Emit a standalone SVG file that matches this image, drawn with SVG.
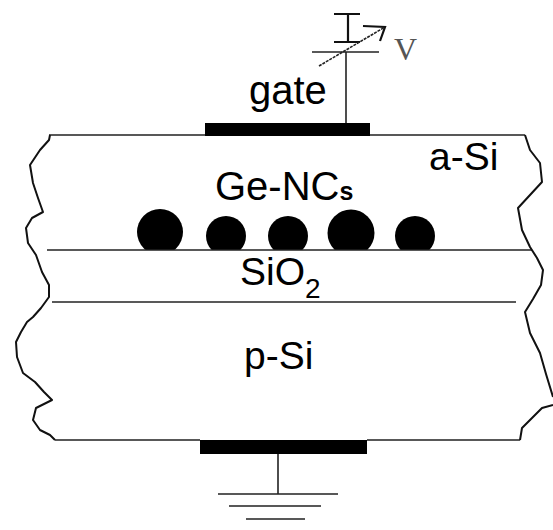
<svg xmlns="http://www.w3.org/2000/svg" width="553" height="530" viewBox="0 0 553 530">
<defs><clipPath id="k"><rect x="0" y="0" width="553" height="250"/></clipPath></defs>
<style>
.l{fill:none;stroke:#222;stroke-width:1.6}
.p{fill:none;stroke:#111;stroke-width:2.2}
.e{fill:none;stroke:#111;stroke-width:2;stroke-linejoin:round}
.t{font-family:"Liberation Sans",Arial,sans-serif;fill:#000;font-size:39px}
.b{fill:#000}
</style>
<rect width="553" height="530" fill="#fff"/>
<g id="nc1" clip-path="url(#k)"><circle class="b" cx="160" cy="232" r="23"/></g>
<g id="nc2" clip-path="url(#k)"><circle class="b" cx="226" cy="236" r="20"/></g>
<g id="nc3" clip-path="url(#k)"><circle class="b" cx="288" cy="236" r="20"/></g>
<g id="nc4" clip-path="url(#k)"><circle class="b" cx="351" cy="233" r="23.5"/></g>
<g id="nc5" clip-path="url(#k)"><circle class="b" cx="415" cy="236" r="20"/></g>
<g id="connectors">
<path class="l" d="M49 135H205M370 135H525"/>
<path class="l" d="M47 250H532"/>
<path class="l" d="M52 302H516"/>
<path class="l" d="M55 440H200M367 440H520"/>
<path class="l" d="M346 52V124"/>
<path class="l" d="M312 52H379"/>
<path class="p" d="M334 14H360M348 14V42M334 42H360"/>
<path class="l" d="M319 66L385 27" stroke-dasharray="3 1"/>
<path class="p" d="M363 26L385 27L380 41"/>
<path class="l" d="M278 454V494M218 494H338M229 506H321M246 519H305"/>
</g>
<g id="edges">
<path class="e" d="M50 135L49 140L40 150L30 165L33 183L38 198L43 212L32 218L26 228L28 243L36 255L42 272L49 285L49 297L41 308L33 317L27 322L21 332L16 342L17 357L23 373L35 382L44 392L52 400L36 408L33 420L40 430L50 435L55 440"/>
<path class="e" d="M525 135L530 150L540 163L542 182L530 195L518 208L522 230L530 247L537 258L543 270L541 285L533 299L525 312L530 333L540 353L546 374L553 397M553 405L542 408L532 418L522 428L520 440"/>
</g>
<g id="gate"><rect class="b" x="205" y="123" width="165" height="13"/></g>
<g id="back"><rect class="b" x="200" y="440" width="167" height="14"/></g>
<g id="labels">
<text class="t" x="249" y="104" font-size="40" style="font-size:40px">gate</text>
<text class="t" x="429" y="170">a-Si</text>
<text class="t" x="215" y="200" style="font-size:40px">Ge-NC<tspan style="font-size:25px" font-weight="bold">s</tspan></text>
<text class="t" x="240" y="285">SiO<tspan style="font-size:28px" dy="13">2</tspan></text>
<text class="t" x="244" y="369">p-Si</text>
<text x="394" y="60" font-family="Liberation Serif,serif" font-size="32" fill="#555">V</text>
</g>
</svg>
